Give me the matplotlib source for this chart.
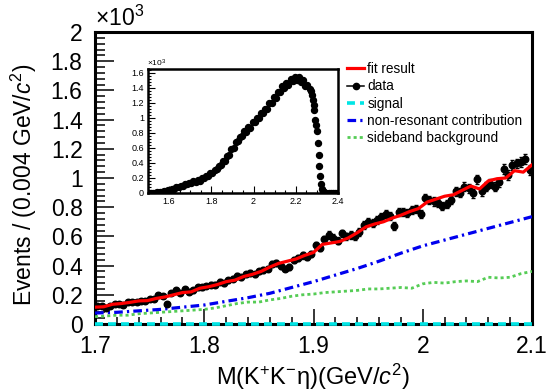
import numpy as np
import matplotlib
matplotlib.use('Agg')
import matplotlib.pyplot as plt
from matplotlib.lines import Line2D
from matplotlib.ticker import MultipleLocator, FuncFormatter

plt.rcParams['font.family'] = ['Liberation Sans', 'DejaVu Sans']
plt.rcParams['mathtext.fontset'] = 'custom'
plt.rcParams['mathtext.rm'] = 'Liberation Sans'
plt.rcParams['mathtext.it'] = 'Liberation Sans:italic'
plt.rcParams['mathtext.sf'] = 'Liberation Sans'

# ---- main plot values (in units of 10^3 events / 4 MeV) ----
bin_width = 0.004
data_x = 1.702 + bin_width * np.arange(100)
data_y = [0.12, 0.12, 0.11, 0.12, 0.14, 0.14, 0.13, 0.15, 0.15, 0.15,
          0.16, 0.16, 0.17, 0.17, 0.20, 0.19, 0.14, 0.21, 0.23, 0.21,
          0.24, 0.22, 0.23, 0.25, 0.25, 0.26, 0.27, 0.27, 0.29, 0.28,
          0.30, 0.31, 0.33, 0.32, 0.34, 0.35, 0.34, 0.36, 0.37, 0.38,
          0.41, 0.42, 0.40, 0.38, 0.39, 0.44, 0.45, 0.47, 0.46, 0.48,
          0.54, 0.52, 0.58, 0.61, 0.59, 0.57, 0.62, 0.60, 0.61, 0.60,
          0.63, 0.68, 0.70, 0.69, 0.71, 0.73, 0.75, 0.74, 0.67, 0.77,
          0.77, 0.76, 0.78, 0.79, 0.75, 0.86, 0.85, 0.84, 0.83, 0.81,
          0.82, 0.85, 0.91, 0.90, 0.94, 0.93, 0.895, 0.99, 0.91, 0.94,
          0.96, 0.94, 0.97, 1.06, 1.02, 1.09, 1.10, 1.11, 1.13, 1.055]
# poisson errors from the counts
data_err = np.sqrt(np.array(data_y) * 1000) / 1000

fit_x = np.linspace(1.7, 2.1, 51)
fit_y = [0.115, 0.118, 0.135, 0.14, 0.148, 0.158, 0.16, 0.175, 0.185, 0.20,
         0.215, 0.22, 0.245, 0.255, 0.27, 0.29, 0.30, 0.325, 0.34, 0.36,
         0.39, 0.415, 0.43, 0.445, 0.47, 0.49, 0.545, 0.555, 0.565, 0.59,
         0.625, 0.665, 0.685, 0.70, 0.725, 0.745, 0.77, 0.79, 0.835, 0.855,
         0.875, 0.885, 0.915, 0.945, 0.925, 0.98, 0.995, 1.00, 1.05, 1.04,
         1.09]

nonres_x = np.linspace(1.7, 2.1, 21)
nonres_y = [0.075, 0.08, 0.09, 0.10, 0.115, 0.13, 0.155, 0.18, 0.21, 0.25,
            0.29, 0.335, 0.38, 0.43, 0.485, 0.535, 0.575, 0.615, 0.655, 0.695,
            0.735]
signal_y = [0.0] * 21

side_x = np.linspace(1.7, 2.1, 41)
side_y = [0.05, 0.055, 0.06, 0.06, 0.07, 0.075, 0.08, 0.085, 0.09, 0.095,
          0.10, 0.11, 0.125, 0.14, 0.15, 0.15, 0.165, 0.175, 0.19, 0.20,
          0.205, 0.215, 0.22, 0.225, 0.23, 0.24, 0.24, 0.245, 0.25, 0.245,
          0.275, 0.285, 0.28, 0.29, 0.295, 0.29, 0.32, 0.315, 0.32, 0.345,
          0.36]

# ---- inset values ----
inset_x = np.concatenate([np.arange(1.505, 2.27, 0.01),
                          np.arange(2.272, 2.337, 0.004),
                          np.arange(2.345, 2.40, 0.01)])
inset_y = [0.0, 0.0, 0.003, 0.002, 0.008, 0.012, 0.013, 0.022, 0.026, 0.037,
           0.043, 0.054, 0.058, 0.074, 0.078, 0.094, 0.098, 0.115, 0.118, 0.135,
           0.138, 0.155, 0.152, 0.168, 0.165, 0.195, 0.205, 0.228, 0.232, 0.265,
           0.272, 0.305, 0.315, 0.36, 0.37, 0.42, 0.43, 0.49, 0.51, 0.58,
           0.60, 0.68, 0.69, 0.75, 0.76, 0.82, 0.81, 0.88, 0.87, 0.95,
           0.94, 1.00, 1.00, 1.07, 1.06, 1.12, 1.12, 1.20, 1.20, 1.28,
           1.27, 1.34, 1.34, 1.42, 1.40, 1.46, 1.44, 1.52, 1.49, 1.55,
           1.50, 1.55, 1.48, 1.50, 1.43, 1.44, 1.38,
           1.36, 1.30, 1.24, 1.17, 1.10, 0.97, 0.90, 0.83, 0.66, 0.50,
           0.36, 0.23, 0.12, 0.05, 0.02, 0.01, 0.0,
           0.0, 0.0, 0.0, 0.0, 0.0, 0.0]

fmt = FuncFormatter(lambda v, p: '%g' % round(v, 3))

fig = plt.figure(figsize=(5.48, 3.91), dpi=100)
ax = fig.add_axes([0.1734, 0.1714, 0.7974, 0.7468])

ax.plot(nonres_x, signal_y, color='#00e5e5', lw=2.6, dashes=(2.2, 1.4),
        zorder=6, clip_on=False)
ax.plot(side_x, side_y, color='#55cc55', lw=2.0, dashes=(1.1, 1.1), zorder=3)
ax.plot(nonres_x, nonres_y, color='#0000ee', lw=2.3,
        dashes=(2.7, 1.3, 0.7, 1.3), zorder=3)
ax.errorbar(data_x, data_y, yerr=data_err, fmt='o', color='k', ms=4.7,
            elinewidth=1.1, capsize=1.5, capthick=1.0, zorder=4)
ax.plot(fit_x, fit_y, color='red', lw=2.3, zorder=5)

ax.set_xlim(1.7, 2.1)
ax.set_ylim(0, 2.0)
ax.xaxis.set_major_locator(MultipleLocator(0.1))
ax.xaxis.set_minor_locator(MultipleLocator(0.02))
ax.yaxis.set_major_locator(MultipleLocator(0.2))
ax.yaxis.set_minor_locator(MultipleLocator(0.04))
ax.xaxis.set_major_formatter(fmt)
ax.yaxis.set_major_formatter(fmt)
ax.tick_params(axis='both', which='both', direction='in', width=1.1,
               labelsize=16.5, top=False, right=False)
ax.tick_params(axis='x', which='major', length=11, pad=8)
ax.tick_params(axis='x', which='minor', length=5)
ax.tick_params(axis='y', which='major', length=14, pad=9)
ax.tick_params(axis='y', which='minor', length=7)
for s in ax.spines.values():
    s.set_linewidth(2.2)

ax.set_xlabel(r'M(K$^{+}$K$^{-}$η)(GeV/$c^{2}$)', fontsize=17)
ax.xaxis.set_label_coords(0.5, -0.128)
ax.set_ylabel(r'Events / (0.004 GeV/$c^{2}$)', fontsize=16.5)
ax.yaxis.set_label_coords(-0.128, 0.478)
fig.text(95 / 548, 1 - 31 / 391, r'$\times$10$^{3}$', fontsize=16.5,
         ha='left', va='bottom')

handles = [Line2D([], [], color='red', lw=2.3),
           Line2D([], [], color='k', lw=1.1, marker='o', ms=4.5),
           Line2D([], [], color='#00e5e5', lw=2.6, dashes=(2.2, 1.4)),
           Line2D([], [], color='#0000ee', lw=2.3, dashes=(2.7, 1.3, 0.7, 1.3)),
           Line2D([], [], color='#55cc55', lw=2.0, dashes=(1.1, 1.1))]
labels = ['fit result', 'data', 'signal', 'non-resonant contribution',
          'sideband background']
fig.legend(handles, labels, loc='upper left',
           bbox_to_anchor=(347 / 548, 1 - 62 / 391), frameon=False,
           fontsize=9.8, handlelength=1.25, handletextpad=0.25,
           labelspacing=0.24, borderpad=0, borderaxespad=0)

# ---- inset ----
axin = fig.add_axes([148 / 548, 1 - 193 / 391, 190 / 548, 124 / 391])
axin.plot(inset_x, inset_y, 'o', color='k', ms=4.3)
axin.set_xlim(1.5, 2.4)
axin.set_ylim(0, 1.65)
axin.xaxis.set_major_locator(MultipleLocator(0.2))
axin.xaxis.set_minor_locator(MultipleLocator(0.05))
axin.yaxis.set_major_locator(MultipleLocator(0.2))
axin.yaxis.set_minor_locator(MultipleLocator(0.04))
axin.xaxis.set_major_formatter(fmt)
axin.yaxis.set_major_formatter(fmt)
axin.tick_params(axis='both', which='both', direction='in', width=0.8,
                 labelsize=6.5, top=False, right=False, pad=3)
axin.tick_params(axis='both', which='major', length=5)
axin.tick_params(axis='both', which='minor', length=2.5)
for s in axin.spines.values():
    s.set_linewidth(1.8)
fig.text(147 / 548, 1 - 69 / 391, r'$\times$10$^{3}$', fontsize=6,
         ha='left', va='bottom')

fig.savefig('out.png', dpi=100)
